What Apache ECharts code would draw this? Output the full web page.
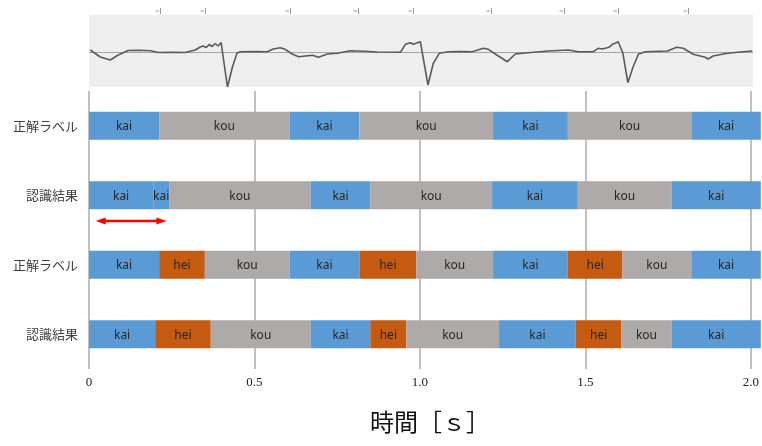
<!DOCTYPE html>
<html>
<head>
<meta charset="utf-8">
<script src="https://cdn.jsdelivr.net/npm/echarts@6/dist/echarts.min.js"></script>
<style>
  html, body { margin: 0; padding: 0; background: #fff; }
  #chart { width: 762px; height: 446px; }
</style>
</head>
<body>
<div id="chart"></div>
<script>
// Row titles (top to bottom)
const rowLabels = ['正解ラベル', '認識結果', '正解ラベル', '認識結果'];

// Two-class labelling: reference and recognition
const truth2Bounds = [0, 0.212, 0.606, 0.817, 1.221, 1.447, 1.820, 2.03];
const truth2Classes = ['kai', 'kou', 'kai', 'kou', 'kai', 'kou', 'kai'];
const recog2Bounds = [0, 0.194, 0.242, 0.670, 0.850, 1.218, 1.477, 1.760, 2.03];
const recog2Classes = ['kai', 'kai', 'kou', 'kai', 'kou', 'kai', 'kou', 'kai'];

// Three-class labelling: reference and recognition
const truth3Bounds = [0, 0.212, 0.350, 0.606, 0.817, 0.989, 1.221, 1.447, 1.612, 1.820, 2.03];
const truth3Classes = ['kai', 'hei', 'kou', 'kai', 'hei', 'kou', 'kai', 'hei', 'kou', 'kai'];
const recog3Bounds = [0, 0.200, 0.368, 0.670, 0.850, 0.959, 1.239, 1.471, 1.609, 1.760, 2.03];
const recog3Classes = ['kai', 'hei', 'kou', 'kai', 'hei', 'kou', 'kai', 'hei', 'kou', 'kai'];

// Tolerance arrow span [s]
const arrowSpan = [0.020, 0.234];

// Waveform samples: time [s] and amplitude
const waveT = [0.004, 0.034, 0.064, 0.088, 0.118, 0.150, 0.185, 0.209, 0.250, 0.290, 0.320, 0.335,
  0.344, 0.353, 0.362, 0.371, 0.380, 0.389, 0.398, 0.402, 0.417, 0.432, 0.446, 0.456, 0.500, 0.537,
  0.555, 0.576, 0.591, 0.612, 0.631, 0.652, 0.673, 0.691, 0.718, 0.748, 0.787, 0.830, 0.868, 0.938,
  0.953, 0.968, 0.977, 0.989, 0.998, 1.004, 1.021, 1.037, 1.055, 1.082, 1.120, 1.154, 1.188, 1.203,
  1.233, 1.260, 1.284, 1.323, 1.383, 1.444, 1.474, 1.519, 1.534, 1.545, 1.561, 1.570, 1.576, 1.585,
  1.594, 1.600, 1.608, 1.623, 1.639, 1.655, 1.676, 1.742, 1.770, 1.790, 1.820, 1.856, 1.865, 1.880,
  1.923, 1.962, 1.998];
const waveV = [2, -5, -8, -3, 1.5, 1.7, 1.2, -0.5, -0.3, -0.5, 2, 5,
  6, 4.5, 7.5, 5.5, 8.5, 6, 9.5, 8, -35, -15, -1, 0.3, 0.5, 0.3,
  3, 4.3, 2.7, -2, -4.7, -4, -3.3, -5.3, -2, -1.3, 1.3, 0.8, 0, -0.3,
  7.7, 9.3, 7.7, 9.3, 10.3, 8.7, -33, -11.3, -1.3, 0.3, 0.5, 0.3, 3.7, 2.7,
  -4, -9.7, -2, -0.7, 1, 2, 0.3, 0.3, 3.7, 3, 4.3, 5.5, 7.7, 8.7,
  10.3, 11.3, -1, -30.7, -14.7, -2, 0.3, 1, 4.7, 3.7, -2.3, -5.3, -7, -4,
  -1.3, 0, 1];

// Annotation marks above the waveform [s]
const markTimes = [0.215, 0.350, 0.606, 0.811, 0.977, 1.212, 1.432, 1.594, 1.805];

const classColors = { kai: '#5B9BD5', kou: '#AEAAAA', hei: '#C55A11' };

function segmentsOf(bounds, classes, row) {
  return classes.map((c, i) => [bounds[i], bounds[i + 1], row, c]);
}
const segData = [].concat(
  segmentsOf(truth2Bounds, truth2Classes, 0),
  segmentsOf(recog2Bounds, recog2Classes, 1),
  segmentsOf(truth3Bounds, truth3Classes, 2),
  segmentsOf(recog3Bounds, recog3Classes, 3)
);

const BAR_H = 28;

function renderSegment(params, api) {
  const s = api.value(0), e = api.value(1), row = api.value(2);
  const cls = segData[params.dataIndex][3];
  const p0 = api.coord([s, row]);
  const p1 = api.coord([e, row]);
  return {
    type: 'group',
    children: [
      {
        type: 'rect',
        shape: { x: p0[0], y: p0[1] - BAR_H / 2, width: p1[0] - p0[0], height: BAR_H },
        style: { fill: classColors[cls] }
      },
      {
        type: 'text',
        x: (p0[0] + p1[0]) / 2,
        y: p0[1] + 1,
        style: {
          text: cls,
          textAlign: 'center',
          textVerticalAlign: 'middle',
          align: 'center',
          verticalAlign: 'middle',
          fill: '#262626',
          font: '12px "Noto Sans", sans-serif'
        }
      }
    ]
  };
}

function renderArrow(params, api) {
  const p0 = api.coord([api.value(0), api.value(2)]);
  const p1 = api.coord([api.value(1), api.value(2)]);
  const band = api.size([0, 1])[1];
  const y = p0[1] + band * 0.37;
  const hl = 10, hw = 3.5;
  const red = '#FF0000';
  return {
    type: 'group',
    children: [
      { type: 'line', shape: { x1: p0[0] + hl - 1, y1: y, x2: p1[0] - hl + 1, y2: y },
        style: { stroke: red, lineWidth: 2.5 } },
      { type: 'polygon', shape: { points: [[p0[0], y], [p0[0] + hl, y - hw], [p0[0] + hl, y + hw]] },
        style: { fill: red } },
      { type: 'polygon', shape: { points: [[p1[0], y], [p1[0] - hl, y - hw], [p1[0] - hl, y + hw]] },
        style: { fill: red } }
    ]
  };
}

function renderMark(params, api) {
  const p = api.coord([api.value(0), 37]);
  const x = Math.round(p[0]) + 0.5;
  const c = '#9a9a9a';
  return {
    type: 'group',
    children: [
      { type: 'line', shape: { x1: x, y1: p[1] - 7, x2: x, y2: p[1] - 1 }, style: { stroke: c, lineWidth: 1 } },
      { type: 'line', shape: { x1: x - 5, y1: p[1] - 4, x2: x - 1.5, y2: p[1] - 4 }, style: { stroke: c, lineWidth: 1 } }
    ]
  };
}

const chart = echarts.init(document.getElementById('chart'), null, { renderer: 'canvas' });

chart.setOption({
  animation: false,
  backgroundColor: '#ffffff',
  title: {
    text: '時間［ｓ］',
    left: 370,
    top: 410,
    padding: 0,
    textStyle: {
      fontSize: 24,
      fontWeight: 'normal',
      color: '#111',
      fontFamily: '"Noto Sans CJK JP", sans-serif'
    }
  },
  grid: [
    { left: 89, right: 9, top: 91, bottom: 77 },
    { left: 89, right: 9, top: 15, height: 72, show: true, backgroundColor: '#efefef', borderWidth: 0 }
  ],
  xAxis: [
    {
      type: 'value', gridIndex: 0, min: 0, max: 2, interval: 0.5,
      axisLine: { show: false },
      axisTick: { show: false },
      axisLabel: {
        margin: 7,
        color: '#222',
        fontSize: 13,
        fontFamily: '"Liberation Serif", serif',
        formatter: v => (v === 0 ? '0' : v.toFixed(1))
      },
      splitLine: { show: true, lineStyle: { color: '#ababab', width: 1.5 } }
    },
    { type: 'value', gridIndex: 1, min: 0, max: 2, show: false }
  ],
  yAxis: [
    {
      type: 'category', gridIndex: 0, data: rowLabels, inverse: true,
      axisLine: { show: false },
      axisTick: { show: false },
      splitLine: { show: false },
      axisLabel: {
        margin: 11,
        color: '#404040',
        fontSize: 13,
        fontFamily: '"Noto Sans CJK JP", sans-serif'
      }
    },
    { type: 'value', gridIndex: 1, min: -35, max: 37, show: false }
  ],
  series: [
    {
      type: 'custom',
      xAxisIndex: 0, yAxisIndex: 0,
      renderItem: renderSegment,
      encode: { x: [0, 1], y: 2 },
      clip: false,
      data: segData.map(d => [d[0], d[1], d[2]])
    },
    {
      type: 'custom',
      xAxisIndex: 0, yAxisIndex: 0,
      renderItem: renderArrow,
      encode: { x: [0, 1], y: 2 },
      clip: false,
      z: 5,
      data: [[arrowSpan[0], arrowSpan[1], 1]]
    },
    {
      type: 'line',
      xAxisIndex: 1, yAxisIndex: 1,
      data: waveT.map((t, i) => [t, waveV[i]]),
      showSymbol: false,
      symbol: 'none',
      lineStyle: { color: '#5a5a5a', width: 1.6 },
      markLine: {
        silent: true,
        symbol: 'none',
        label: { show: false },
        lineStyle: { color: '#a6a6a6', width: 1, type: 'solid' },
        data: [{ yAxis: 0 }],
        z: 1
      },
      z: 3
    },
    {
      type: 'custom',
      xAxisIndex: 1, yAxisIndex: 1,
      renderItem: renderMark,
      encode: { x: 0 },
      clip: false,
      data: markTimes.map(t => [t])
    }
  ]
});
</script>
</body>
</html>
